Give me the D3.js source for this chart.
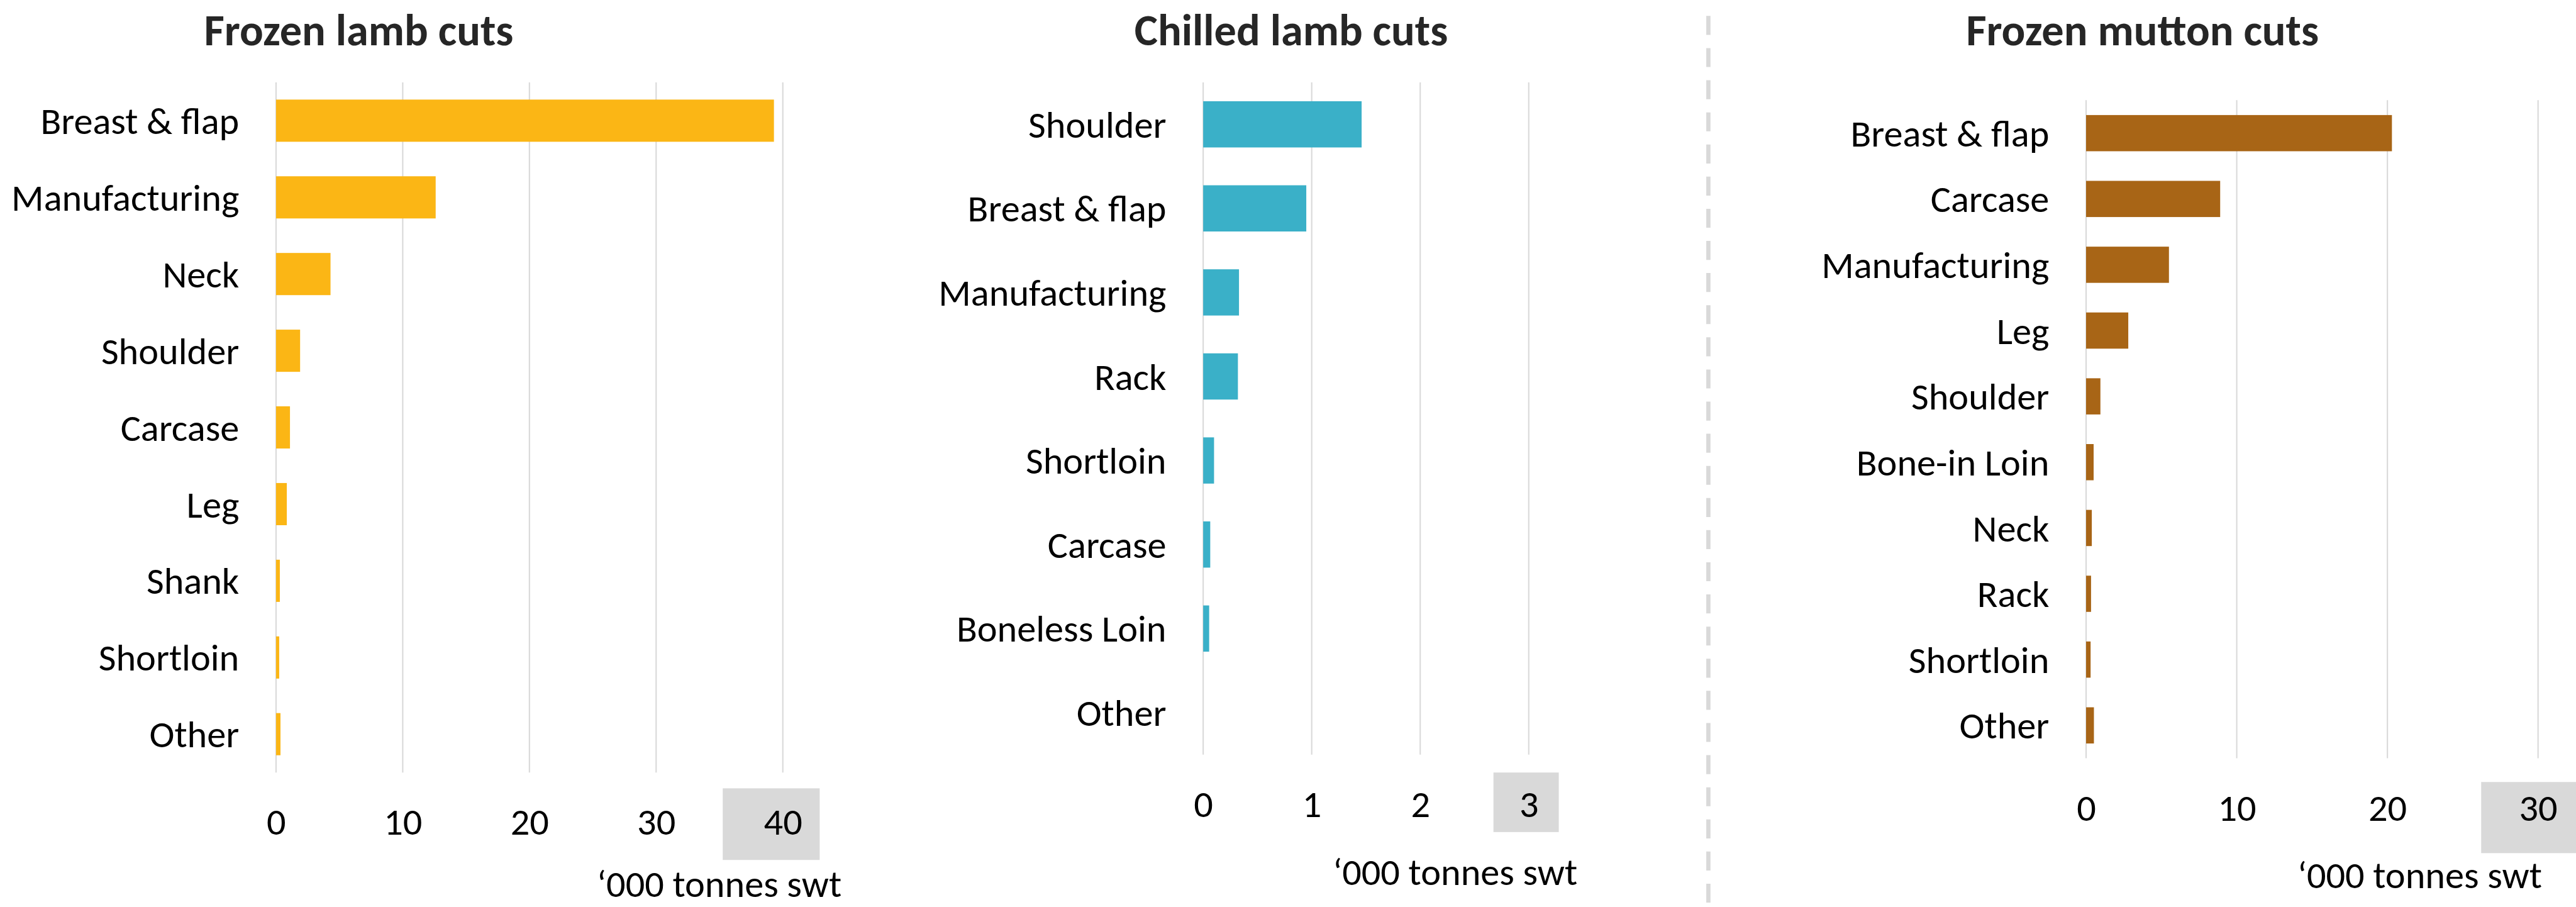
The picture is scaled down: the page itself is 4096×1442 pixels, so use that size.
<!DOCTYPE html>
<html>
<head>
<meta charset="utf-8">
<script src="https://cdn.jsdelivr.net/npm/d3@7"></script>
<style>
  html, body { margin: 0; padding: 0; background: #fff; overflow: hidden; }
  text { font-family: Carlito, Calibri, Lato, "Open Sans", sans-serif; }
</style>
</head>
<body>
<div id="chart"></div>
<script>
// data, '000 tonnes swt
const frozenLambCuts = ["Breast & flap", "Manufacturing", "Neck", "Shoulder", "Carcase", "Leg", "Shank", "Shortloin", "Other"]
const frozenLambValues = [39.3, 12.6, 4.3, 1.9, 1.1, 0.85, 0.3, 0.25, 0.35]
const frozenLambTicks = [0, 10, 20, 30, 40]

const chilledLambCuts = ["Shoulder", "Breast & flap", "Manufacturing", "Rack", "Shortloin", "Carcase", "Boneless Loin", "Other"]
const chilledLambValues = [1.46, 0.95, 0.33, 0.32, 0.1, 0.065, 0.055, 0]
const chilledLambTicks = [0, 1, 2, 3]

const frozenMuttonCuts = ["Breast & flap", "Carcase", "Manufacturing", "Leg", "Shoulder", "Bone-in Loin", "Neck", "Rack", "Shortloin", "Other"]
const frozenMuttonValues = [20.3, 8.9, 5.5, 2.8, 0.95, 0.5, 0.38, 0.33, 0.3, 0.52]
const frozenMuttonTicks = [0, 10, 20, 30]

const titles = ["Frozen lamb cuts", "Chilled lamb cuts", "Frozen mutton cuts"]
const unitLabel = "\u2018000 tonnes swt"

// everything is laid out in the reference's 4890 x 1721 space, the viewBox scales it down
const W = 4890, H = 1721
const panels = [
	{ title: titles[0], cuts: frozenLambCuts, values: frozenLambValues, ticks: frozenLambTicks, color: "#fbb615",
	  x0: 524, x1: 1486, y0: 156, y1: 1466, titleX: 681, tickY: 1584, unitX: 1133, unitY: 1702, box: [114, 70, 1496, 1632] },
	{ title: titles[1], cuts: chilledLambCuts, values: chilledLambValues, ticks: chilledLambTicks, color: "#3ab0c8",
	  x0: 2284, x1: 2902, y0: 156, y1: 1432, titleX: 2451, tickY: 1550, unitX: 2530, unitY: 1680, box: [67, 57, 1466, 1579] },
	{ title: titles[2], cuts: frozenMuttonCuts, values: frozenMuttonValues, ticks: frozenMuttonTicks, color: "#a86516",
	  x0: 3960, x1: 4818, y0: 190, y1: 1439, titleX: 4067, tickY: 1558, unitX: 4361, unitY: 1686, box: [108, 80, 1484, 1619] }
]

const svg = d3.select("#chart")
	.append("svg")
		.attr("width", 4096)
		.attr("height", 1442)
		.attr("viewBox", `0 0 ${W} ${H}`)

// dashed divider between lamb and mutton
svg.append("line")
	.attr("x1", 3243).attr("x2", 3243)
	.attr("y1", 30).attr("y2", H)
	.attr("stroke", "#d9d9d9")
	.attr("stroke-width", 8)
	.attr("stroke-dasharray", "36 25")

panels.forEach(function (p) {
	const g = svg.append("g")

	const x = d3.scaleLinear()
		.domain([0, d3.max(p.ticks)])
		.range([p.x0, p.x1])

	const y = d3.scaleBand()
		.domain(p.cuts)
		.range([p.y0, p.y1])
		.paddingInner(0.45)
		.paddingOuter(0.225)

	// highlight box behind the last tick label
	const last = d3.max(p.ticks)
	g.append("rect")
		.attr("x", x(last) - p.box[0])
		.attr("y", p.box[2])
		.attr("width", p.box[0] + p.box[1])
		.attr("height", p.box[3] - p.box[2])
		.attr("fill", "#d9d9d9")

	// gridlines
	g.append("g")
		.selectAll("line")
		.data(p.ticks)
		.join("line")
			.attr("x1", d => x(d)).attr("x2", d => x(d))
			.attr("y1", p.y0).attr("y2", p.y1)
			.attr("stroke", "#d9d9d9")
			.attr("stroke-width", 2.5)

	// bars
	g.append("g")
		.attr("fill", p.color)
		.selectAll("rect")
		.data(p.cuts)
		.join("rect")
			.attr("x", x(0))
			.attr("y", d => y(d))
			.attr("height", y.bandwidth())
			.attr("width", (d, i) => x(p.values[i]) - x(0))

	// x axis labels (no domain, no tick marks)
	const xAxis = g.append("g")
		.attr("transform", `translate(0,${p.tickY})`)
		.call(d3.axisBottom(x).tickValues(p.ticks).tickFormat(d3.format("d")).tickSize(0).tickPadding(0))
	xAxis.select(".domain").remove()
	xAxis.selectAll("text")
		.attr("dy", null)
		.attr("y", 0)
		.attr("font-size", 72)
		.attr("font-family", null)
		.attr("fill", "#000")

	// category labels
	const yAxis = g.append("g")
		.attr("transform", `translate(${x(0) - 70},0)`)
		.call(d3.axisLeft(y).tickSize(0).tickPadding(0))
	yAxis.select(".domain").remove()
	yAxis.selectAll("text")
		.attr("dy", "0.35em")
		.attr("font-size", 72)
		.attr("font-family", null)
		.attr("fill", "#000")

	// panel title
	g.append("text")
		.attr("x", p.titleX)
		.attr("y", 86)
		.attr("text-anchor", "middle")
		.attr("font-size", 84)
		.attr("font-weight", "bold")
		.attr("fill", "#262626")
		.text(p.title)

	// unit label
	g.append("text")
		.attr("x", p.unitX)
		.attr("y", p.unitY)
		.attr("font-size", 72)
		.attr("fill", "#000")
		.text(unitLabel)
})
</script>
</body>
</html>
